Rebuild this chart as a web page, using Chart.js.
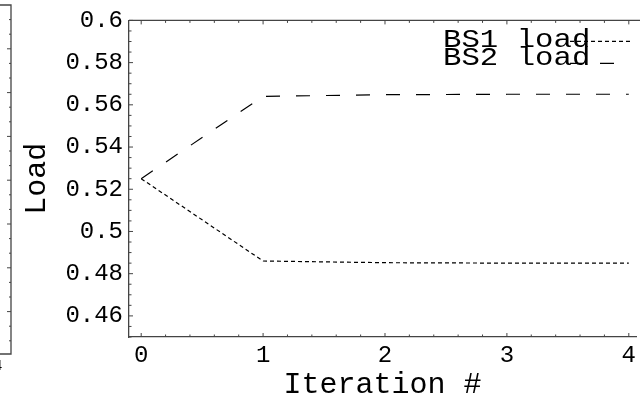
<!DOCTYPE html>
<html>
<head>
<meta charset="utf-8">
<script src="https://cdn.jsdelivr.net/npm/chart.js@4/dist/chart.umd.min.js"></script>
<style>
    html, body { margin: 0; padding: 0; background: #fff; overflow: hidden; }
    #wrap { position: relative; width: 640px; height: 398px; }
</style>
</head>
<body>
<div id="wrap"><canvas id="load-chart"></canvas></div>
<script>
const iterations = [0, 1, 2, 3, 4];
const bs1Load = [0.525, 0.486, 0.4852, 0.485, 0.485];
const bs2Load = [0.525, 0.564, 0.5648, 0.565, 0.565];

const xTicks = [0, 1, 2, 3, 4];
const yTicks = [0.46, 0.48, 0.5, 0.52, 0.54, 0.56, 0.58, 0.6];
const yTickLabels = ['0.46', '0.48', '0.5', '0.52', '0.54', '0.56', '0.58', '0.6'];

const MONO = "'Liberation Mono', 'DejaVu Sans Mono', monospace";
const AXIS_COLOR = '#444';

function toPoints(values) {
    return iterations.map((x, i) => ({ x: x, y: values[i] }));
}

// inward tick marks + top frame line, like the old Mathematica frame
const frameTicks = {
    id: 'frameTicks',
    afterDatasetsDraw(chart) {
        const { ctx, chartArea, scales } = chart;
        const x = scales.x;
        const y = scales.y;
        ctx.save();
        ctx.strokeStyle = AXIS_COLOR;
        ctx.lineWidth = 1.3;
        ctx.beginPath();
        ctx.moveTo(chartArea.left, chartArea.top);
        ctx.lineTo(chartArea.right + 5, chartArea.top);
        ctx.stroke();

        ctx.lineWidth = 1;
        ctx.beginPath();
        for (let k = 0; k <= 20; k++) {
            const px = x.getPixelForValue(k * 0.2);
            const len = k % 5 === 0 ? 4 : 2.5;
            ctx.moveTo(px, chartArea.bottom);
            ctx.lineTo(px, chartArea.bottom - len);
            ctx.moveTo(px, chartArea.top);
            ctx.lineTo(px, chartArea.top + len);
        }
        for (let k = 0; k <= 30; k++) {
            const v = 0.45 + k * 0.005;
            const py = y.getPixelForValue(v);
            const len = (k - 2) % 4 === 0 ? 4 : 2.5;
            ctx.moveTo(chartArea.left, py);
            ctx.lineTo(chartArea.left + len, py);
        }
        ctx.stroke();
        ctx.restore();
    }
};

// legend drawn inside the plot, text first then line sample
const insetLegend = {
    id: 'insetLegend',
    afterDatasetsDraw(chart) {
        const { ctx, chartArea } = chart;
        chart.data.datasets.forEach((ds, i) => {
            const base = chartArea.top + 27 + i * 18;
            ctx.save();
            ctx.font = '26px ' + MONO;
            ctx.fillStyle = '#000';
            ctx.textBaseline = 'alphabetic';
            ctx.translate(chartArea.left + 314, base);
            ctx.scale(1.18, 1);
            ctx.fillText(ds.label, 0, 0);
            ctx.restore();

            ctx.save();
            ctx.strokeStyle = '#000';
            ctx.lineWidth = ds.borderWidth;
            ctx.setLineDash(ds.borderDash);
            ctx.beginPath();
            ctx.moveTo(chartArea.left + 441, base - 6 + i * 4);
            ctx.lineTo(chartArea.left + 501, base - 6 + i * 4);
            ctx.stroke();
            ctx.restore();
        });
    }
};

// bit of the neighbouring panel that got cropped in on the left
const leftRemnant = {
    id: 'leftRemnant',
    afterDraw(chart) {
        const ctx = chart.ctx;
        ctx.save();
        ctx.strokeStyle = AXIS_COLOR;
        ctx.lineWidth = 1.3;
        ctx.beginPath();
        ctx.moveTo(0, 5);
        ctx.lineTo(11, 5);
        ctx.lineTo(11, 354);
        ctx.lineTo(0, 354);
        ctx.stroke();
        ctx.lineWidth = 1;
        ctx.beginPath();
        for (let k = 1; k * 14.6 + 5 < 354; k++) {
            const py = 5 + k * 14.6;
            ctx.moveTo(11, py);
            ctx.lineTo(k % 3 === 0 ? 7 : 9, py);
        }
        ctx.stroke();
        ctx.fillStyle = '#000';
        ctx.font = '14px ' + MONO;
        ctx.fillText('4', -6, 370);
        ctx.restore();
    }
};

function renderLoadChart() {
    const ctx = document.getElementById('load-chart');
    new Chart(ctx, {
        type: 'line',
        data: {
            datasets: [{
                label: 'BS1 load',
                data: toPoints(bs1Load),
                borderColor: '#000',
                borderWidth: 1.2,
                borderDash: [4, 3],
                pointRadius: 0,
                fill: false,
                tension: 0
            }, {
                label: 'BS2 load',
                data: toPoints(bs2Load),
                borderColor: '#000',
                borderWidth: 1.2,
                borderDash: [14, 16],
                pointRadius: 0,
                fill: false,
                tension: 0
            }]
        },
        options: {
            responsive: true,
            maintainAspectRatio: false,
            animation: false,
            devicePixelRatio: 1,
            layout: { padding: { top: 17, right: 0, left: 0, bottom: 0 } },
            plugins: {
                legend: { display: false },
                tooltip: { enabled: false }
            },
            scales: {
                x: {
                    type: 'linear',
                    min: -0.1,
                    max: 4.06,
                    afterBuildTicks: scale => { scale.ticks = xTicks.map(v => ({ value: v })); },
                    afterFit: scale => { scale.height = 61; },
                    grid: { display: false, drawTicks: false },
                    border: { display: true, color: AXIS_COLOR, width: 1.3 },
                    ticks: {
                        color: '#000',
                        padding: 4,
                        maxRotation: 0,
                        font: { family: MONO, size: 24 }
                    },
                    title: {
                        display: true,
                        text: 'Iteration #',
                        color: '#000',
                        padding: { top: 0, bottom: -5 },
                        font: { family: MONO, size: 30 }
                    }
                },
                y: {
                    min: 0.45,
                    max: 0.6,
                    afterBuildTicks: scale => { scale.ticks = yTicks.map(v => ({ value: v })); },
                    afterFit: scale => { scale.width = 129; },
                    grid: { display: false, drawTicks: false },
                    border: { display: true, color: AXIS_COLOR, width: 1.3 },
                    ticks: {
                        color: '#000',
                        padding: 6,
                        font: { family: MONO, size: 24 },
                        callback: (value, index) => yTickLabels[index]
                    },
                    title: {
                        display: true,
                        text: 'Load',
                        color: '#000',
                        padding: { top: 19, bottom: 0 },
                        font: { family: MONO, size: 30 }
                    }
                }
            }
        },
        plugins: [frameTicks, insetLegend, leftRemnant]
    });
}

renderLoadChart();
</script>
</body>
</html>
